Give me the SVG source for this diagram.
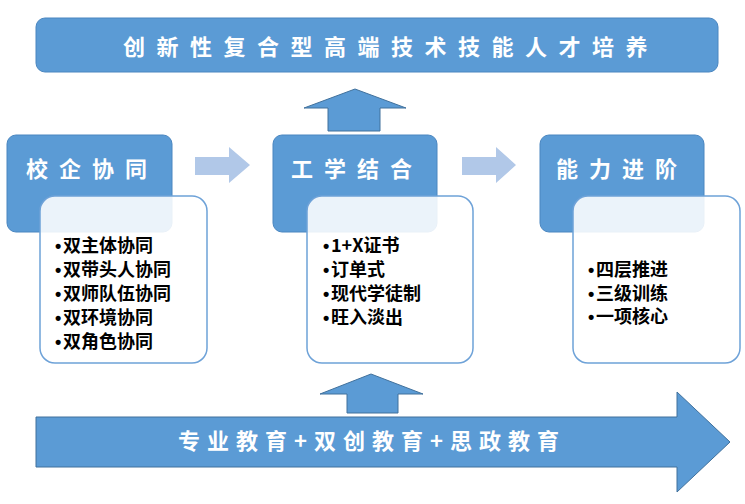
<svg xmlns="http://www.w3.org/2000/svg" width="745" height="504" viewBox="0 0 745 504">
<style>
.blue{fill:#5b9bd5;stroke:#4a86c0;stroke-width:1}
.arrow{fill:#5b9bd5;stroke:#41719c;stroke-width:1}
.light{fill:#b1c8e8;stroke:none}
.card{fill:#ffffff;fill-opacity:0.88;stroke:#6ea2d8;stroke-width:1.5}
.title{font-family:"Noto Sans CJK SC","Liberation Sans",sans-serif;font-weight:700;fill:#ffffff;font-size:22px}
.item{font-family:"Noto Sans CJK SC","Liberation Sans",sans-serif;font-weight:700;fill:#000000;font-size:18px}
.dot{font-family:"Liberation Sans",sans-serif;font-weight:700;font-size:18px}
</style>
<g id="connectors">
<path class="arrow" d="M328,131 L328,108 L304,108 L355,89 L406,108 L380,108 L380,131 Z"/>
<path class="arrow" d="M347,413 L347,394 L320,394 L371,374 L423,394 L398,394 L398,413 Z"/>
<path class="light" d="M195,157 L229,157 L229,147 L250,165 L229,183 L229,175 L195,175 Z"/>
<path class="light" d="M462,157 L496,157 L496,147 L516,165 L496,183 L496,175 L462,175 Z"/>
</g>
<g id="goal">
<rect class="blue" x="36" y="18" width="682" height="54" rx="9"/>
<text class="title" x="391" y="55" text-anchor="middle" letter-spacing="11.5">创新性复合型高端技术技能人才培养</text>
</g>
<g id="base">
<path class="arrow" d="M36,417 L677,417 L677,392 L730,442 L677,492 L677,467 L36,467 Z"/>
<text class="title" x="372" y="449" text-anchor="middle" letter-spacing="7" font-size="20">专业教育+双创教育+思政教育</text>
</g>
<g id="node1">
<rect class="blue" x="7" y="135" width="165" height="97" rx="9"/>
<rect class="card" x="40" y="196" width="167" height="167" rx="15"/>
<text class="title" x="92" y="177" text-anchor="middle" letter-spacing="11">校企协同</text>
<text class="item" y="251.5"><tspan class="dot" x="55">•</tspan><tspan x="63">双主体协同</tspan></text>
<text class="item" y="275.5"><tspan class="dot" x="55">•</tspan><tspan x="63">双带头人协同</tspan></text>
<text class="item" y="299.5"><tspan class="dot" x="55">•</tspan><tspan x="63">双师队伍协同</tspan></text>
<text class="item" y="323.5"><tspan class="dot" x="55">•</tspan><tspan x="63">双环境协同</tspan></text>
<text class="item" y="347.5"><tspan class="dot" x="55">•</tspan><tspan x="63">双角色协同</tspan></text>
</g>
<g id="node2">
<rect class="blue" x="273" y="135" width="164" height="97" rx="9"/>
<rect class="card" x="307" y="196" width="166" height="167" rx="15"/>
<text class="title" x="357" y="177" text-anchor="middle" letter-spacing="11">工学结合</text>
<text class="item" y="251.5"><tspan class="dot" x="323">•</tspan><tspan x="331">1+X证书</tspan></text>
<text class="item" y="275.5"><tspan class="dot" x="323">•</tspan><tspan x="331">订单式</tspan></text>
<text class="item" y="299.5"><tspan class="dot" x="323">•</tspan><tspan x="331">现代学徒制</tspan></text>
<text class="item" y="323.5"><tspan class="dot" x="323">•</tspan><tspan x="331">旺入淡出</tspan></text>
</g>
<g id="node3">
<rect class="blue" x="540" y="135" width="164" height="97" rx="9"/>
<rect class="card" x="573" y="196" width="167" height="167" rx="15"/>
<text class="title" x="622" y="177" text-anchor="middle" letter-spacing="11">能力进阶</text>
<text class="item" y="275.5"><tspan class="dot" x="588">•</tspan><tspan x="596">四层推进</tspan></text>
<text class="item" y="299.5"><tspan class="dot" x="588">•</tspan><tspan x="596">三级训练</tspan></text>
<text class="item" y="323"><tspan class="dot" x="588">•</tspan><tspan x="596">一项核心</tspan></text>
</g>
</svg>
